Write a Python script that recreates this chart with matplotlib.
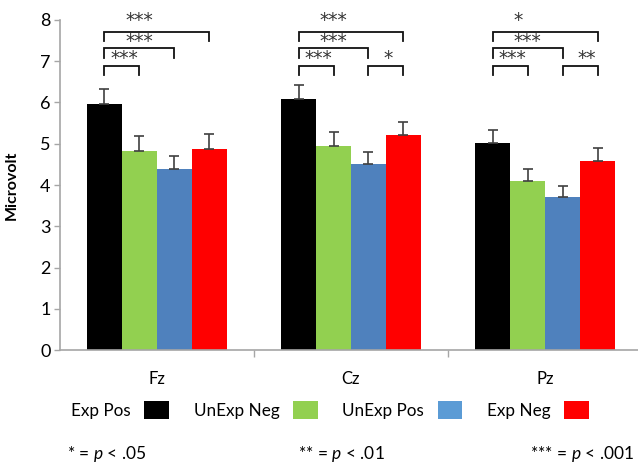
import matplotlib
matplotlib.use("Agg")
import matplotlib.pyplot as plt
import numpy as np
from matplotlib.patches import Patch

plt.rcParams['font.family'] = ['Lato', 'DejaVu Sans']
plt.rcParams['mathtext.fontset'] = 'custom'
plt.rcParams['mathtext.it'] = 'Lato:italic'
plt.rcParams['mathtext.rm'] = 'Lato'

sites = ["Fz", "Cz", "Pz"]
conditions = ["Exp Pos", "UnExp Neg", "UnExp Pos", "Exp Neg"]
colors = ["#000000", "#92D050", "#4F81BD", "#FF0000"]
legend_colors = ["#000000", "#92D050", "#5B9BD5", "#FF0000"]

means = {
    "Exp Pos":   [5.96, 6.08, 5.03],
    "UnExp Neg": [4.83, 4.95, 4.10],
    "UnExp Pos": [4.38, 4.51, 3.72],
    "Exp Neg":   [4.87, 5.20, 4.57],
}
errors = {
    "Exp Pos":   [0.36, 0.35, 0.30],
    "UnExp Neg": [0.36, 0.33, 0.28],
    "UnExp Pos": [0.32, 0.30, 0.26],
    "Exp Neg":   [0.37, 0.33, 0.33],
}

# significance comparisons: (site index, cond a, cond b, label, level)
comparisons = [
    (0, 0, 1, "***", 0), (0, 0, 2, "***", 1), (0, 0, 3, "***", 2),
    (1, 0, 1, "***", 0), (1, 0, 2, "***", 1), (1, 0, 3, "***", 2), (1, 2, 3, "*", 0),
    (2, 0, 1, "***", 0), (2, 0, 2, "***", 1), (2, 0, 3, "*", 2), (2, 2, 3, "**", 0),
]
bracket_top = [6.885, 7.32, 7.71]
bracket_leg = 0.23
label_y = [7.20, 7.61, 8.12]

fig = plt.figure(figsize=(6.38, 4.65), dpi=100)
ax = fig.add_axes([59.5/638, 115/465, 583/638, 330/465])

x = np.arange(len(sites))
w = 0.18
offsets = (np.arange(len(conditions)) - 1.5) * w
for i, c in enumerate(conditions):
    ax.bar(x + offsets[i], means[c], width=w, color=colors[i], linewidth=0, zorder=2)
    ax.errorbar(x + offsets[i], means[c],
                yerr=[np.zeros(len(sites)), errors[c]],
                fmt='none', ecolor='#404040', elinewidth=1.2, capsize=3.4,
                capthick=1.2, zorder=3)

star_shift = 0.27
for (s, a, b, lab, lev) in comparisons:
    xa = x[s] + offsets[a]
    xb = x[s] + offsets[b]
    yt = bracket_top[lev]
    ax.plot([xa, xa, xb, xb], [yt - bracket_leg, yt, yt, yt - bracket_leg],
            color='#111111', lw=1.3, clip_on=False, zorder=4,
            solid_joinstyle='miter')
    if a == 0:
        tx = xa + (0.031 if lev == 0 else 0.108)
        ty = label_y[lev]
    else:
        tx = xa + 0.075
        ty = label_y[0]
    ax.text(tx, ty - star_shift, lab, ha='left', va='baseline', fontsize=13.5,
            family='DejaVu Sans', color='#333333', clip_on=False)

ax.set_xlim(-0.5, 2.5)
ax.set_ylim(0, 8)
ax.set_yticks(range(0, 9))
ax.tick_params(axis='y', labelsize=13, length=4.5, width=1, color='#A6A6A6',
               direction='out', pad=2)
ax.set_xticks(x)
ax.set_xticklabels(sites, fontsize=12)
ax.set_xticks([0.5, 1.5], minor=True)
ax.tick_params(axis='x', which='major', length=0, pad=15)
ax.tick_params(axis='x', which='minor', length=5, width=1, color='#A6A6A6',
               direction='out')
for sp in ['top', 'right']:
    ax.spines[sp].set_visible(False)
for sp in ['left', 'bottom']:
    ax.spines[sp].set_color('#A6A6A6')
    ax.spines[sp].set_linewidth(1.2)

ax.set_ylabel("Microvolt", fontsize=11.5, fontweight='bold')
ax.yaxis.set_label_coords(-40.5/583, 0.5)

handles = [Patch(facecolor=legend_colors[i], edgecolor='none', label=c)
           for i, c in enumerate(conditions)]
fig.legend(handles=handles, ncol=4, loc='center',
           bbox_to_anchor=(330/638, 1 - 410/465), frameon=False,
           markerfirst=False, fontsize=12.3, handlelength=1.44,
           handleheight=1.32, handletextpad=0.8, columnspacing=1.45,
           borderpad=0)

fig.text(67/638, 1 - 454/465, "* = $p$ < .05", ha='left', va='center', fontsize=12.5)
fig.text(298/638, 1 - 454/465, "** = $p$ < .01", ha='left', va='center', fontsize=12.5)
fig.text(530/638, 1 - 454/465, "*** = $p$ < .001", ha='left', va='center', fontsize=12.5)

fig.savefig("out.png", dpi=100)
